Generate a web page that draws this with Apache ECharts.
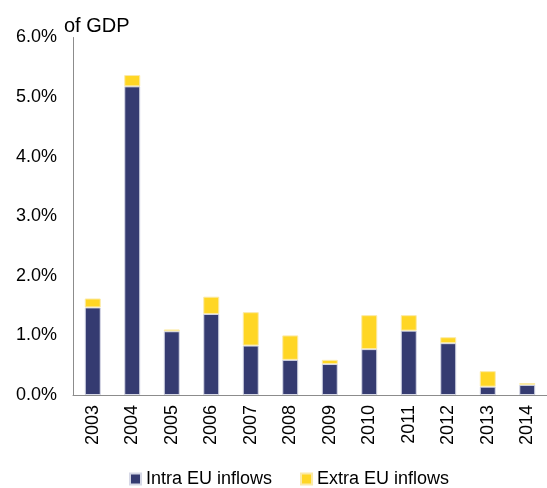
<!DOCTYPE html>
<html>
<head>
<meta charset="utf-8">
<script src="https://cdn.jsdelivr.net/npm/echarts@6/dist/echarts.min.js"></script>
<style>
  html, body { margin: 0; padding: 0; background: #fff; }
  #chart { width: 547px; height: 488px; }
</style>
</head>
<body>
<div id="chart"></div>
<script>
// years on the x axis
const years = ['2003', '2004', '2005', '2006', '2007', '2008', '2009', '2010', '2011', '2012', '2013', '2014'];
// % of GDP
const intraEU = [1.47, 5.18, 1.07, 1.36, 0.83, 0.59, 0.52, 0.77, 1.08, 0.87, 0.14, 0.17];
const extraEU = [0.15, 0.19, 0.03, 0.29, 0.56, 0.41, 0.07, 0.57, 0.26, 0.10, 0.26, 0.03];

const font = 'Liberation Sans, Arial, sans-serif';
const chart = echarts.init(document.getElementById('chart'));

chart.setOption({
  animation: false,
  textStyle: { fontFamily: font },
  title: {
    text: 'of GDP',
    left: 59,
    top: 11,
    textStyle: { fontSize: 20, fontWeight: 'normal', color: '#000', fontFamily: font }
  },
  grid: {
    left: 73,
    top: 37.5,
    width: 484,
    height: 357.5
  },
  legend: {
    left: 124,
    top: 465,
    itemWidth: 11,
    itemHeight: 11,
    itemGap: 28,
    icon: 'rect',
    textStyle: { fontSize: 18, color: '#000', fontFamily: font },
    data: ['Intra EU inflows', 'Extra EU inflows']
  },
  xAxis: {
    type: 'category',
    data: years,
    axisLine: { lineStyle: { color: '#8c8c8c', width: 1 } },
    axisTick: { show: false },
    axisLabel: { rotate: 90, margin: 10, fontSize: 18, color: '#000', fontFamily: font }
  },
  yAxis: {
    type: 'value',
    min: 0,
    max: 6,
    interval: 1,
    axisLine: { show: true, lineStyle: { color: '#8c8c8c', width: 1 } },
    axisTick: { show: false },
    splitLine: { show: false },
    axisLabel: {
      margin: 16,
      fontSize: 18,
      color: '#000',
      fontFamily: font,
      formatter: v => v.toFixed(1) + '%'
    }
  },
  series: [
    {
      name: 'Intra EU inflows',
      type: 'bar',
      stack: 'total',
      barWidth: 16,
      data: intraEU,
      itemStyle: { color: '#353B71', borderColor: '#d6d8e6', borderWidth: 1 }
    },
    {
      name: 'Extra EU inflows',
      type: 'bar',
      stack: 'total',
      barWidth: 16,
      data: extraEU,
      itemStyle: { color: '#FFD624', borderColor: '#fbeaa8', borderWidth: 1 }
    }
  ]
});
</script>
</body>
</html>
